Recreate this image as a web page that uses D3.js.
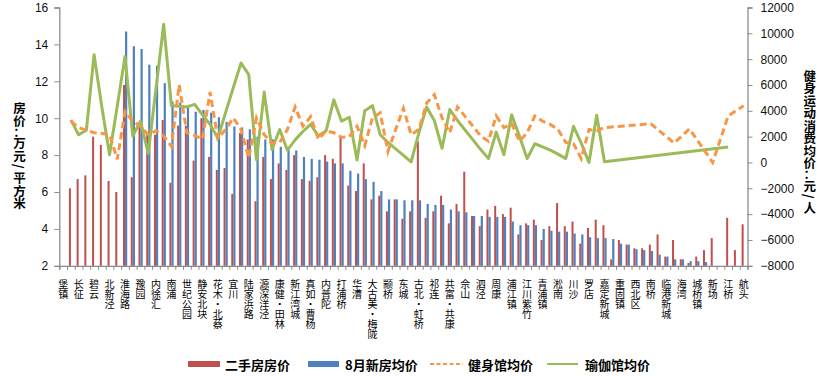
<!DOCTYPE html>
<meta charset="utf-8">
<script src="https://cdn.jsdelivr.net/npm/d3@7"></script>
<style>
  body { margin: 0; background: #fff; }
  text { font-family: "Noto Sans CJK SC", "Liberation Sans", sans-serif; }
</style>
<div id="chart"></div>
<script>

// visible category labels (Excel shows every other one; slots in between are unlabeled)
var labels = ["堡镇","长征","碧云","北新泾","淮海路","豫园","内徐汇","南浦","世纪公园","静安北块",
  "花木·北蔡","宜川","陆家浜路","源深洋泾","康健·田林","新江湾城","真如·曹杨","内普陀","打浦桥","华漕",
  "大古美·梅陇","颛桥","东城","古北·虹桥","祁连","共富·共康","佘山","泗泾","周康","浦江镇",
  "江川紫竹","青浦镇","淞南","川沙","罗店","嘉定新城","重固镇","西北区","南桥","临港新城",
  "海湾","城桥镇","新场","江桥","航头"];
var nSlots = 89;

// 二手房房价 (万元/平方米)
var resale = [null,6.2,6.7,6.9,9.0,8.55,6.6,6.0,11.8,6.8,
  9.55,9.1,9.1,9.9,6.5,9.6,9.6,7.7,10.0,7.9,
  7.2,7.3,5.9,9.2,8.85,5.5,7.9,6.7,7.55,7.2,
  8.0,6.7,6.6,6.8,8.0,7.8,9.0,6.35,6.05,7.55,
  5.6,5.8,4.95,5.6,4.55,4.95,8.75,4.6,4.95,5.8,
  4.3,5.35,7.1,4.7,4.15,5.05,5.25,4.8,5.15,3.7,
  4.3,4.5,3.4,4.15,5.4,4.15,4.4,3.2,4.05,4.5,
  4.2,2.35,3.4,3.15,2.95,2.95,3.15,3.7,2.5,3.4,
  2.35,2.15,2.5,2.85,3.5,null,4.6,2.85,4.25];

// 8月新房均价
var newHome = [null,null,null,null,null,null,null,null,14.7,13.9,
  13.75,12.9,12.85,11.9,10.9,10.85,10.65,10.35,10.45,10.3,
  10.05,9.8,9.55,9.5,9.4,9.0,8.85,8.85,8.45,8.3,
  8.25,7.9,7.8,7.75,7.65,7.55,7.55,7.15,7.0,6.7,
  6.55,6.05,5.6,5.6,5.55,5.55,5.55,5.35,5.3,5.3,
  5.05,4.95,4.9,4.7,4.7,4.65,4.65,4.65,4.4,4.2,
  4.2,4.2,4.0,3.9,3.85,3.85,3.75,3.7,3.55,3.5,
  3.5,3.45,3.2,3.15,2.9,2.85,2.8,2.6,2.5,2.35,
  2.35,2.25,2.25,2.2,null,null,null,null,null];

// 健身馆均价 (元/人, right axis)
var gym = [null,3200,2700,2500,2300,2250,2150,250,3950,3200,
  2800,2150,2450,2050,1250,6000,2300,2100,1800,5450,
  1850,2550,3450,2550,350,3450,2150,1500,1550,2550,
  4300,2800,3550,1800,2450,2300,1950,2000,2800,1300,
  3450,3850,850,2550,4200,2150,2550,4600,5250,3450,
  2300,4300,3550,2800,2050,1650,3600,2700,3000,1650,
  2300,3600,3200,2950,2550,1550,1450,300,2550,2450,
  2700,null,null,null,null,null,3000,null,null,1500,
  null,2600,null,null,0,null,3600,null,4400];

// 瑜伽馆均价 (元/人, right axis)
var yoga = [null,3300,2150,2500,8350,4300,600,4400,8200,2050,
  3200,700,5700,10700,4400,4350,4300,4500,3700,2950,
  1900,3850,5800,7700,6800,200,5450,1000,2550,950,
  1750,2400,2950,2050,2450,4850,3200,3500,200,4000,
  4400,2150,1550,1050,550,50,2300,4300,3250,1100,
  4100,3250,2500,1750,1000,300,2350,600,3700,2050,
  300,1450,1200,950,650,300,2800,1500,0,3650,
  50,null,null,null,null,null,null,null,null,null,
  null,null,null,null,null,null,1200,null,null];

var leftTicks = [2,4,6,8,10,12,14,16];
var rightTicks = [-8000,-6000,-4000,-2000,0,2000,4000,6000,8000,10000,12000];

var W = 822, H = 376;
var plot = {left: 59.3, right: 747.5, top: 7.5, bottom: 265.8};

var svg = d3.select("#chart").append("svg")
  .attr("width", W).attr("height", H);

var x = d3.scaleBand().domain(d3.range(nSlots)).range([plot.left, plot.right]);
var xEdge = d3.scaleLinear().domain([0, nSlots]).range([plot.left, plot.right]);
var yL = d3.scaleLinear().domain([2, 16]).range([plot.bottom, plot.top]);
var yR = d3.scaleLinear().domain([-8000, 12000]).range([plot.bottom, plot.top]);
var cx = function(i) { return x(i) + x.bandwidth() / 2; };

var axisColor = "#8c8c8c";

// left axis
var gl = svg.append("g").attr("transform", "translate(" + plot.left + ",0)")
  .call(d3.axisLeft(yL).tickValues(leftTicks).tickSize(5).tickPadding(6));
// right axis
var gr = svg.append("g").attr("transform", "translate(" + plot.right + ",0)")
  .call(d3.axisRight(yR).tickValues(rightTicks).tickSize(5).tickPadding(8).tickFormat(d3.format("d")));
// bottom axis, ticks on slot edges
var gb = svg.append("g").attr("transform", "translate(0," + plot.bottom + ")")
  .call(d3.axisBottom(xEdge).tickValues(d3.range(nSlots + 1)).tickSize(4).tickFormat(""));

[gl, gr, gb].forEach(function(g) {
  g.selectAll("path").attr("stroke", axisColor).attr("stroke-width", 1.3);
  g.selectAll("line").attr("stroke", axisColor);
  g.selectAll("text").attr("fill", "#111")
    .style("font-family", "'Liberation Sans', Arial, sans-serif").style("font-size", "12px");
});

// bars
var bars = svg.append("g");
bars.selectAll(".r")
  .data(resale.map(function(v, i) { return {i: i, v: v}; }).filter(function(d) { return d.v != null; }))
  .enter().append("rect")
    .attr("x", function(d) { return cx(d.i) - 2; })
    .attr("width", 2)
    .attr("y", function(d) { return yL(d.v); })
    .attr("height", function(d) { return yL(2) - yL(d.v); })
    .attr("fill", "#C0504D");
bars.selectAll(".b")
  .data(newHome.map(function(v, i) { return {i: i, v: v}; }).filter(function(d) { return d.v != null; }))
  .enter().append("rect")
    .attr("x", function(d) { return cx(d.i); })
    .attr("width", 2.2)
    .attr("y", function(d) { return yL(d.v); })
    .attr("height", function(d) { return yL(2) - yL(d.v); })
    .attr("fill", "#4F81BD");

// lines (gaps are bridged, like Excel's "connect data points")
var line = d3.line()
  .x(function(d) { return cx(d.i); })
  .y(function(d) { return yR(d.v); });
function pts(arr) {
  return arr.map(function(v, i) { return {i: i, v: v}; }).filter(function(d) { return d.v != null; });
}
svg.append("path").datum(pts(yoga))
  .attr("d", line).attr("fill", "none")
  .attr("stroke", "#9BBB59").attr("stroke-width", 3).attr("stroke-linejoin", "round");
svg.append("path").datum(pts(gym))
  .attr("d", line).attr("fill", "none")
  .attr("stroke", "#F79646").attr("stroke-width", 3).attr("stroke-dasharray", "7,4");

// category labels, one character per row
var catG = svg.append("g");
labels.forEach(function(name, k) {
  Array.from(name).forEach(function(ch, j) {
    catG.append("text")
      .attr("x", cx(k * 2))
      .attr("y", 283.3 + j * 10)
      .attr("text-anchor", "middle")
      .attr("dominant-baseline", "central")
      .style("font-size", "10px")
      .attr("fill", "#000")
      .text(ch);
  });
});

// vertical axis titles
function stackTitle(str, xc, y0, size) {
  var chars = Array.from(str);
  var h = function(c) { return (c === "：" || c === "/") ? 10 : 12.5; };
  var y = y0;
  chars.forEach(function(ch, j) {
    if (j > 0) y += (h(chars[j - 1]) + h(ch)) / 2;
    var t = svg.append("text")
      .attr("x", xc).attr("y", y)
      .attr("text-anchor", "middle")
      .attr("dominant-baseline", "central")
      .style("font-size", size + "px")
      .style("font-weight", "bold")
      .attr("fill", "#000")
      .text(ch);
    if (ch === "/") t.attr("transform", "rotate(90," + xc + "," + y + ")");
  });
}
stackTitle("房价：万元/平方米", 19.5, 107.5, 12.5);
stackTitle("健身运动消费均价：元/人", 809.7, 75, 12.5);

// legend
var legend = [
  {name: "二手房房价", type: "rect", color: "#C0504D", x0: 188, x1: 220, tx: 225},
  {name: "8月新房均价", type: "rect", color: "#4F81BD", x0: 308, x1: 339, tx: 345},
  {name: "健身馆均价", type: "dash", color: "#F79646", x0: 430, x1: 463, tx: 468},
  {name: "瑜伽馆均价", type: "line", color: "#9BBB59", x0: 547, x1: 578, tx: 585}
];
var ly = 364;
var lg = svg.append("g");
legend.forEach(function(d) {
  if (d.type === "rect") {
    lg.append("rect").attr("x", d.x0).attr("y", ly - 3).attr("width", d.x1 - d.x0).attr("height", 6)
      .attr("fill", d.color);
  } else {
    lg.append("line").attr("x1", d.x0).attr("x2", d.x1).attr("y1", ly).attr("y2", ly)
      .attr("stroke", d.color).attr("stroke-width", 2)
      .attr("stroke-dasharray", d.type === "dash" ? "4,2.5" : null);
  }
  lg.append("text").attr("x", d.tx).attr("y", ly)
    .attr("dominant-baseline", "central")
    .style("font-size", "13px").style("font-weight", "bold")
    .attr("fill", "#000")
    .text(d.name);
});

</script>
